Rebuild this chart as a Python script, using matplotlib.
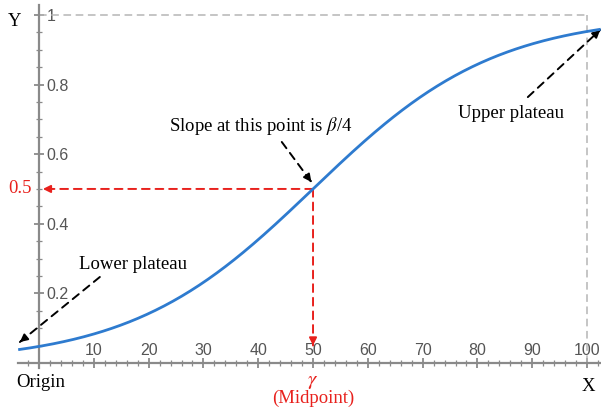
import numpy as np
import matplotlib.pyplot as plt

# Logistic growth curve parameters
gamma = 50.0      # midpoint
beta = 0.06       # steepness
x_start, x_end = -3.8, 102.5

x_major = [10, 20, 30, 40, 50, 60, 70, 80, 90, 100]
y_major = [0.2, 0.4, 0.6, 0.8, 1.0]
y_major_labels = ["0.2", "0.4", "0.6", "0.8", "1"]

plt.rcParams['mathtext.fontset'] = 'stix'
serif = ['Liberation Serif', 'DejaVu Serif']
sans = ['Liberation Sans', 'DejaVu Sans']

fig = plt.figure(figsize=(6.01, 4.12), dpi=100)
ax = fig.add_axes([0, 0, 1, 1])
ax.set_xlim(-7.12, 102.55)
ax.set_ylim(-0.141, 1.043)
ax.patch.set_alpha(0)

axis_grey = '#8a8a8a'
label_grey = '#555555'

# Axes through the origin: y axis with labels on its right, x axis with labels above
for s in ['left', 'bottom']:
    ax.spines[s].set_visible(False)
ax.spines['right'].set_position(('data', 0))
ax.spines['top'].set_position(('data', 0))
ax.spines['right'].set_bounds(-0.015, 1.03)
ax.spines['top'].set_bounds(x_start, x_end)
for s in ['right', 'top']:
    ax.spines[s].set_color(axis_grey)
    ax.spines[s].set_linewidth(1.6)

ax.yaxis.set_ticks_position('right')
ax.xaxis.set_ticks_position('top')
ax.set_xticks(x_major)
ax.set_xticks([v for v in np.arange(-2, 103, 2) if v % 10 != 0], minor=True)
ax.set_yticks(y_major)
ax.set_yticklabels(y_major_labels)
ax.set_yticks([v for v in np.arange(0.05, 1.0, 0.05) if round(v * 100) % 20 != 0], minor=True)

ax.tick_params(which='both', direction='inout', color=axis_grey, labelcolor=label_grey,
               labelsize=11.5)
ax.tick_params(which='major', length=7, width=1.3)
ax.tick_params(which='minor', length=5, width=0.9)
ax.tick_params(axis='y', pad=2)
ax.tick_params(axis='x', pad=0)
for lab in ax.get_xticklabels() + ax.get_yticklabels():
    lab.set_family(sans)

# Reference lines at the upper asymptote and x = 100
ax.plot([0, 100], [1, 1], color='#b5b5b5', lw=1.1, ls=(0, (5, 3)))
ax.plot([100, 100], [0, 1], color='#b5b5b5', lw=1.1, ls=(0, (5, 3)))

# Logistic curve
xs = np.linspace(x_start, x_end, 400)
ys = 1.0 / (1.0 + np.exp(-beta * (xs - gamma)))
ax.plot(xs, ys, color='#2e7bcf', lw=2.0, solid_capstyle='butt', zorder=4)


def dashed_arrow(start, tip, color, lw=1.4, head=11):
    ax.annotate('', xy=tip, xytext=start,
                arrowprops=dict(arrowstyle='-', color=color, lw=lw,
                                linestyle=(0, (4, 3)), shrinkA=0, shrinkB=0))
    d = np.array(tip) - np.array(start)
    near = np.array(tip) - d * 0.02
    ax.annotate('', xy=tip, xytext=tuple(near),
                arrowprops=dict(arrowstyle='-|>', color=color, lw=lw,
                                mutation_scale=head, shrinkA=0, shrinkB=0))


# Midpoint projections
red = '#e8211d'
dashed_arrow((gamma, 0.5), (0.7, 0.5), red)
dashed_arrow((gamma, 0.5), (gamma, 0.05), red)

# Annotations
dashed_arrow((44.3, 0.635), (49.7, 0.52), 'black')
dashed_arrow((11.1, 0.247), (-3.5, 0.06), 'black')
dashed_arrow((89.2, 0.764), (102.4, 0.957), 'black')

tsize = 13.5
ax.text(40.5, 0.681, r'Slope at this point is $\beta$/4', family=serif, fontsize=tsize,
        ha='center', va='center')
ax.text(17.1, 0.284, 'Lower plateau', family=serif, fontsize=tsize, ha='center', va='center')
ax.text(86.2, 0.718, 'Upper plateau', family=serif, fontsize=tsize, ha='center', va='center')

ax.text(-4.4, 0.98, 'Y', family=serif, fontsize=tsize, ha='center', va='center')
ax.text(100.3, -0.069, 'X', family=serif, fontsize=tsize, ha='center', va='center')
ax.text(-4.1, -0.057, 'Origin', family=serif, fontsize=tsize, ha='left', va='center')
ax.text(-3.4, 0.5, '0.5', family=serif, fontsize=tsize, color=red, ha='center', va='center')
ax.text(gamma, -0.052, r'$\gamma$', fontsize=15, color=red, ha='center', va='center')
ax.text(gamma, -0.102, '(Midpoint)', family=serif, fontsize=tsize, color=red,
        ha='center', va='center')

fig.savefig('out.png', dpi=100)
